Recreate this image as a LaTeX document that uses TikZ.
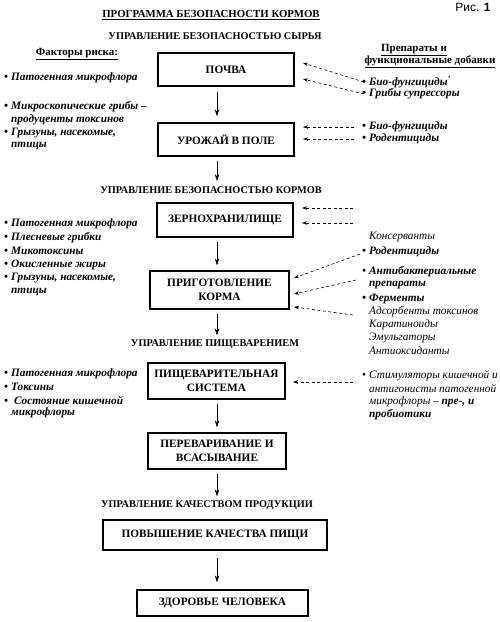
\documentclass[tikz,border=0pt]{standalone}
\usepackage{fontspec}
\setmainfont{Liberation Serif}
\newfontfamily\sansf{Liberation Sans}
\usetikzlibrary{arrows.meta}
\newcommand{\bul}{\makebox[7pt][l]{•}}
\begin{document}
\begin{tikzpicture}[x=1pt,y=-1pt,
  box/.style={draw, line width=1.3pt, inner sep=0pt, align=center, font=\bfseries\fontsize{11.3}{13.5}\selectfont},
  hd/.style={font=\bfseries\fontsize{10.3}{12}\selectfont},
  sub/.style={font=\bfseries\fontsize{11}{13}\selectfont},
  lt/.style={anchor=west, inner sep=0pt, font=\bfseries\itshape\fontsize{11.3}{12}\selectfont},
  rt/.style={anchor=west, inner sep=0pt, font=\itshape\fontsize{11.3}{12}\selectfont},
  flow/.style={-{Stealth[length=7pt,width=4.5pt]}, line width=0.6pt},
  da/.style={-{Stealth[length=5pt,width=3.5pt]}, dash pattern=on 3pt off 2.5pt, line width=0.6pt}]
\useasboundingbox (0,0) rectangle (500,622);

% titles
\node[font=\bfseries\fontsize{10.8}{13}\selectfont] (title) at (211,15) {\underline{ПРОГРАММА БЕЗОПАСНОСТИ КОРМОВ}};
\node[font=\sansf\fontsize{12}{14}\selectfont] (fig) at (473,7) {Рис. \textbf{1}};
\node[hd] (h1) at (215,36) {УПРАВЛЕНИЕ БЕЗОПАСНОСТЬЮ СЫРЬЯ};
\node[hd] (h2) at (211,190) {УПРАВЛЕНИЕ БЕЗОПАСНОСТЬЮ КОРМОВ};
\node[hd] (h3) at (215,344) {УПРАВЛЕНИЕ ПИЩЕВАРЕНИЕМ};
\node[hd] (h4) at (207,505) {УПРАВЛЕНИЕ КАЧЕСТВОМ ПРОДУКЦИИ};
\node[sub] (lh) at (77,54) {\underline{Факторы риска:}};
\node[sub] (rh1) at (414,50) {\underline{Препараты и}};
\node[sub] (rh2) at (430,62) {\underline{функциональные добавки}};

% boxes
\node[box, minimum width=136pt, minimum height=33pt] (pochva) at (226,69.5) {ПОЧВА};
\node[box, minimum width=136pt, minimum height=33pt] (urozh) at (226,139.5) {УРОЖАЙ В ПОЛЕ};
\node[box, minimum width=136pt, minimum height=34pt] (zerno) at (225,220) {ЗЕРНОХРАНИЛИЩЕ};
\node[box, minimum width=139pt, minimum height=38pt] (prig) at (219.5,290) {ПРИГОТОВЛЕНИЕ\\КОРМА};
\node[box, minimum width=137pt, minimum height=36pt] (pisch) at (216.5,381) {ПИЩЕВАРИТЕЛЬНАЯ\\СИСТЕМА};
\node[box, minimum width=138pt, minimum height=36pt] (perev) at (217,451) {ПЕРЕВАРИВАНИЕ И\\ВСАСЫВАНИЕ};
\node[box, minimum width=224pt, minimum height=30pt] (povysh) at (215,535) {ПОВЫШЕНИЕ КАЧЕСТВА ПИЩИ};
\node[box, minimum width=171pt, minimum height=26pt] (zdor) at (222.5,603) {ЗДОРОВЬЕ ЧЕЛОВЕКА};

% left column
\node[lt] (l1) at (4,78) {\bul Патогенная микрофлора};
\node[lt] (l2) at (4,107) {\bul Микроскопические грибы –};
\node[lt] (l3) at (11,120) {продуценты токсинов};
\node[lt] (l4) at (4,133) {\bul Грызуны, насекомые,};
\node[lt] (l5) at (11,146) {птицы};
\node[lt] (l6) at (4,224) {\bul Патогенная микрофлора};
\node[lt] (l7) at (4,238) {\bul Плесневые грибки};
\node[lt] (l8) at (4,251) {\bul Микотоксины};
\node[lt] (l9) at (4,265) {\bul Окисленные жиры};
\node[lt] (l10) at (4,278) {\bul Грызуны, насекомые,};
\node[lt] (l11) at (11,292) {птицы};
\node[lt] (l12) at (4,374) {\bul Патогенная микрофлора};
\node[lt] (l13) at (4,387) {\bul Токсины};
\node[lt] (l14) at (4,400) {\bul\ Состояние кишечной};
\node[lt] (l15) at (11,413) {микрофлоры};

% right column
\node[lt] (r1) at (362,82) {\bul Био-фунгициды\textsuperscript{'}};
\node[lt] (r2) at (362,94) {\bul Грибы супрессоры};
\node[lt] (r3) at (362,127) {\bul Био-фунгициды};
\node[lt] (r4) at (362,139) {\bul Родентициды};
\node[rt] (r5) at (369,237) {Консерванты};
\node[lt] (r6) at (362,252) {\bul Родентициды};
\node[lt] (r7) at (362,272) {\bul Антибактериальные};
\node[lt] (r8) at (369,285) {препараты};
\node[lt] (r9) at (362,299) {\bul Ферменты};
\node[rt] (r10) at (369,312) {Адсорбенты токсинов};
\node[rt] (r11) at (369,325) {Каратиноиды};
\node[rt] (r12) at (369,338) {Эмульгаторы};
\node[rt] (r13) at (369,351) {Антиоксиданты};
\node[rt] (r14) at (362,376) {\bul Стимуляторы кишечной и};
\node[rt] (r15) at (369,389) {антигонисты патогенной};
\node[rt] (r16) at (369,402) {микрофлоры – \textbf{пре-, и}};
\node[rt] (r17) at (369,415) {\textbf{пробиотики}};

% main flow arrows
\coordinate (ax) at (217,0);
\draw[flow, shorten <=5pt, shorten >=6pt] (pochva.south -| ax) -- (urozh.north -| ax);
\draw[flow, shorten <=4pt, shorten >=2pt] (urozh.south -| ax) -- (h2.north -| ax);
\draw[flow, shorten <=4pt, shorten >=5pt] (zerno.south -| ax) -- (prig.north -| ax);
\draw[flow, shorten <=4pt, shorten >=0.5pt] (prig.south -| ax) -- (h3.north -| ax);
\draw[flow, shorten <=4pt, shorten >=5pt] (pisch.south -| ax) -- (perev.north -| ax);
\draw[flow, shorten <=4pt, shorten >=0.5pt] (perev.south -| ax) -- (h4.north -| ax);
\draw[flow, shorten <=7pt, shorten >=7pt] (povysh.south -| ax) -- (zdor.north -| ax);

% dashed arrows
\coordinate (t1) at (303,63);
\coordinate (t2) at (303,79);
\coordinate (s3) at (354,127); \coordinate (t3) at (303,127);
\coordinate (s4) at (354,139); \coordinate (t4) at (303,139);
\coordinate (s5) at (353,208); \coordinate (t5) at (302,208);
\coordinate (s6) at (353,223); \coordinate (t6) at (302,223);
\coordinate (s7) at (360,254); \coordinate (t7) at (294,278);
\coordinate (s8) at (356,280); \coordinate (t8) at (294,294);
\coordinate (s9) at (353,315); \coordinate (t9) at (294,307);
\coordinate (s10) at (353,382); \coordinate (t10) at (293,382);
\draw[da] ([xshift=2pt]r1.west) -- (t1);
\draw[da] ([xshift=2pt]r2.west) -- (t2);
\draw[da] (s3) -- (t3);
\draw[da] (s4) -- (t4);
\draw[da] (s5) -- (t5);
\draw[da] (s6) -- (t6);
\draw[da] (s7) -- (t7);
\draw[da] (s8) -- (t8);
\draw[da] (s9) -- (t9);
\draw[da] (s10) -- (t10);
\end{tikzpicture}
\end{document}
